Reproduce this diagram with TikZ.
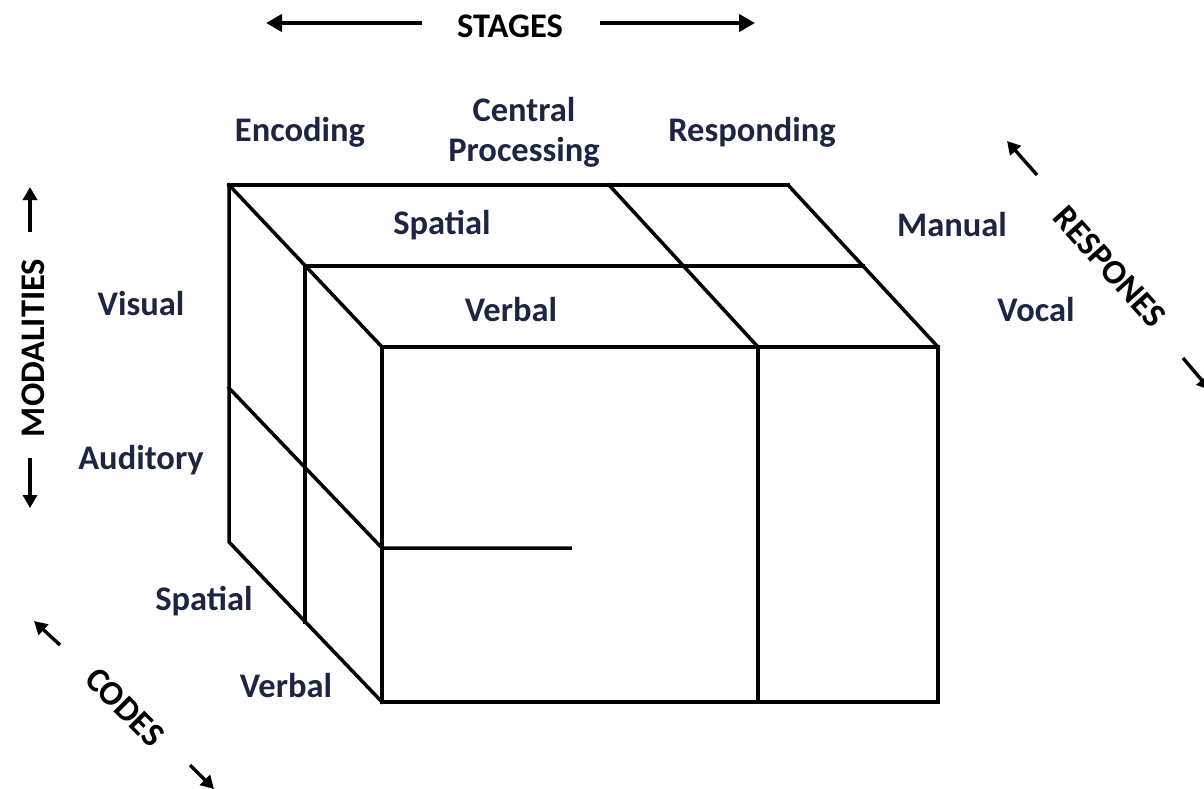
\documentclass[tikz,border=0pt]{standalone}
\usepackage{fontspec}
\setmainfont{Carlito}
\usetikzlibrary{arrows.meta}
\definecolor{labelblue}{RGB}{28,38,66}
\tikzset{
  edge/.style={line width=3.5pt, line cap=rect, line join=miter},
  lbl/.style={font=\bfseries\fontsize{34.5}{40}\selectfont, text=labelblue, inner sep=0pt, align=center},
  axis/.style={font=\bfseries\fontsize{34.5}{40}\selectfont, text=black, inner sep=0pt},
  bigarrow/.style={line width=4pt, -{Triangle[length=16pt,width=17pt]}},
  smallarrow/.style={line width=3.4pt, -{Triangle[length=13pt,width=14pt]}}
}
\begin{document}
\begin{tikzpicture}[x=1pt,y=-1pt]
\useasboundingbox (0,0) rectangle (1204,789);
\clip (0,0) rectangle (1204,789);

% corner points of the block
\coordinate (B1) at (229,185);
\coordinate (B2) at (788,185);
\coordinate (M1) at (305,266);
\coordinate (M2) at (863,266);
\coordinate (F1) at (382,347);
\coordinate (F2) at (938,347);
\coordinate (F3) at (938,702);
\coordinate (F4) at (382,702);
\coordinate (BL) at (229,542);
\coordinate (TD1) at (609,185);
\coordinate (TD2) at (758,347);
\coordinate (TD3) at (758,702);
\coordinate (MB) at (305,622);
\coordinate (A1) at (229,388);
\coordinate (A2) at (382,548);
\coordinate (A3) at (570,548);

% top face
\draw[edge] (B1) -- (B2);
\draw[edge] (M1) -- (M2);
\draw[edge] (B1) -- (F1);
\draw[edge] (B2) -- (F2);
\draw[edge] (TD1) -- (TD2);
% front face
\draw[edge] (F1) -- (F2) -- (F3) -- (F4) -- cycle;
\draw[edge] (TD2) -- (TD3);
% left face
\draw[edge] (B1) -- (BL) -- (F4);
\draw[edge] (M1) -- (MB);
\draw[edge] (A1) -- (A2) -- (A3);

% stage axis
\node[axis] (stages) at (510,26) {STAGES};
\coordinate (sl0) at (422,23);
\coordinate (sl1) at (266,23);
\coordinate (sr0) at (600,23);
\coordinate (sr1) at (755,23);
\draw[bigarrow] (sl0) -- (sl1);
\draw[bigarrow] (sr0) -- (sr1);

\node[lbl] (enc) at (300,132) {Encoding};
\node[lbl] (cen) at (524,132) {Central\\Processing};
\node[lbl] (res) at (752,132) {Responding};

% modality axis
\node[axis, rotate=90] (mod) at (33,348) {MODALITIES};
\coordinate (mu0) at (30,232);
\coordinate (mu1) at (30,187);
\coordinate (md0) at (30,458);
\coordinate (md1) at (30,508);
\draw[smallarrow] (mu0) -- (mu1);
\draw[smallarrow] (md0) -- (md1);

\node[lbl] (vis) at (141,304) {Visual};
\node[lbl] (aud) at (141,460) {Auditory};

% code axis
\node[axis, rotate=-45] (codes) at (125,707) {CODES};
\coordinate (cu0) at (60,645);
\coordinate (cu1) at (34,621);
\coordinate (cd0) at (190,765);
\coordinate (cd1) at (214,789);
\draw[smallarrow] (cu0) -- (cu1);
\draw[smallarrow] (cd0) -- (cd1);

\node[lbl] (spl) at (204,601) {Spatial};
\node[lbl] (vbl) at (286,686) {Verbal};
\node[lbl] (spt) at (442,225) {Spatial};
\node[lbl] (vbt) at (511,310) {Verbal};

% response axis
\node[axis, rotate=-48] (resp) at (1110,267) {RESPONES};
\coordinate (ru0) at (1037,175);
\coordinate (ru1) at (1007,141);
\coordinate (rd0) at (1183,358);
\coordinate (rd1) at (1210,390);
\draw[smallarrow] (ru0) -- (ru1);
\draw[smallarrow] (rd0) -- (rd1);

\node[lbl] (man) at (952,225) {Manual};
\node[lbl] (voc) at (1036,310) {Vocal};
\end{tikzpicture}
\end{document}
